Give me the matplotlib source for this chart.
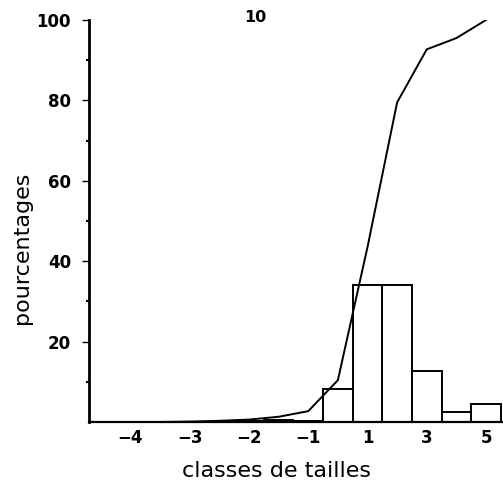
import numpy as np
import matplotlib.pyplot as plt

# size classes (bar index), bar percentages and cumulative curve
classes = [-8, -7, -6, -5, -4, -3, -2, -1, 0, 1, 2, 3, 4, 5]
freq = [0, 0, 0, 0, 0.1, 0.2, 0.6, 0.2, 8.2, 34.2, 34.2, 12.8, 2.6, 4.6]
cumul = [0, 0, 0, 0.1, 0.3, 0.6, 1.3, 2.7, 10.4, 43.5, 79.5, 92.7, 95.5, 100]

tick_pos = [-7, -5, -3, -1, 1, 3, 5]
tick_labels = ['\u22124', '\u22123', '\u22122', '\u22121', '1', '3', '5']

plt.rcParams['font.family'] = ['DejaVu Sans']

fig = plt.figure(figsize=(5.03, 4.87), dpi=100)
ax = fig.add_axes([89 / 503, 65 / 487, 413 / 503, 402 / 487])

ax.bar(classes, freq, width=1.0, color='white', edgecolor='black', linewidth=1.4, zorder=2)
ax.plot(classes, cumul, color='black', linewidth=1.4, zorder=3)

ax.set_xlim(-8.4, 5.54)
ax.set_ylim(0, 100)

ax.spines['top'].set_visible(False)
ax.spines['right'].set_visible(False)
ax.spines['left'].set_linewidth(2.0)
ax.spines['bottom'].set_linewidth(1.6)

ax.set_xticks(tick_pos)
ax.set_xticklabels(tick_labels)
ax.tick_params(axis='x', length=0, pad=5, labelsize=12)
ax.set_yticks([20, 40, 60, 80, 100])
ax.set_yticks([10, 30, 50, 70, 90], minor=True)
ax.tick_params(axis='y', which='major', length=5, width=1, pad=8, labelsize=12)
ax.tick_params(axis='y', which='minor', length=2, width=1.5)
for lab in ax.get_xticklabels() + ax.get_yticklabels():
    lab.set_fontweight('bold')

ax.set_xlabel('classes de tailles', fontsize=16)
ax.set_ylabel('pourcentages', fontsize=16)
ax.xaxis.set_label_coords(0.455, -0.097)
ax.yaxis.set_label_coords(-0.138, 0.433)
fig.text(255 / 503, 1 - 18 / 487, '10', ha='center', va='center', fontsize=11.5, fontweight='bold')

fig.savefig('out.png', dpi=100)
